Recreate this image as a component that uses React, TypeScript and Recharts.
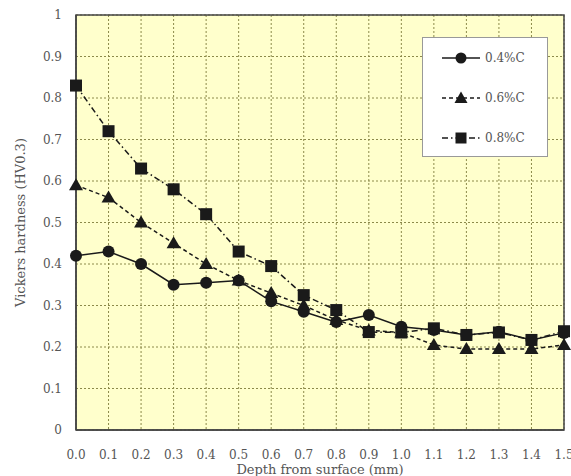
import { LineChart, Line, XAxis, YAxis, CartesianGrid, ReferenceArea } from 'recharts';

const depth = [0, 0.1, 0.2, 0.3, 0.4, 0.5, 0.6, 0.7, 0.8, 0.9, 1.0, 1.1, 1.2, 1.3, 1.4, 1.5];
const c04 = [0.42, 0.43, 0.40, 0.35, 0.355, 0.36, 0.31, 0.285, 0.26, 0.277, 0.249, 0.241, 0.229, 0.237, 0.217, 0.234];
const c06 = [0.59, 0.56, 0.50, 0.45, 0.40, 0.36, 0.33, 0.30, 0.265, 0.24, 0.235, 0.205, 0.195, 0.195, 0.195, 0.205];
const c08 = [0.83, 0.72, 0.63, 0.58, 0.52, 0.43, 0.395, 0.325, 0.289, 0.236, 0.235, 0.245, 0.229, 0.235, 0.217, 0.238];

const xTicks = depth;
const yTicks = [0, 0.1, 0.2, 0.3, 0.4, 0.5, 0.6, 0.7, 0.8, 0.9, 1];

const data = depth.map((d, i) => ({ depth: d, c04: c04[i], c06: c06[i], c08: c08[i] }));

const FONT = '"DejaVu Serif", "Liberation Serif", serif';
const INK = '#1a1a1a';
const TEXT = '#555';

const circleDot = (p: any) => <circle key={p.index} cx={p.cx} cy={p.cy} r={6} fill={INK} />;
const triDot = (p: any) => (
  <polygon key={p.index} points={`${p.cx},${p.cy - 7} ${p.cx - 7},${p.cy + 5} ${p.cx + 7},${p.cy + 5}`} fill={INK} />
);
const squareDot = (p: any) => <rect key={p.index} x={p.cx - 6} y={p.cy - 6} width={12} height={12} fill={INK} />;

const legendItems = [
  { name: '0.4%C', dash: undefined, shape: 'circle' },
  { name: '0.6%C', dash: '4 3', shape: 'tri' },
  { name: '0.8%C', dash: '6 3 1.5 3', shape: 'square' },
];

// legend drawn as an overlay so it doesn't eat plot height
function LegendBox() {
  return (
    <div style={{ position: 'absolute', left: 422, top: 37, background: '#fff', border: '1px solid #999', width: 126, height: 120, boxSizing: 'border-box' }}>
      {legendItems.map((it) => (
        <div key={it.name} style={{ display: 'flex', alignItems: 'center', height: 40, paddingLeft: 17 }}>
          <svg width={42} height={16}>
            <line x1={2} y1={8} x2={40} y2={8} stroke={INK} strokeWidth={1.5} strokeDasharray={it.dash} />
            {it.shape === 'circle' && <circle cx={21} cy={8} r={5.5} fill={INK} />}
            {it.shape === 'tri' && <polygon points="21,1.5 14.5,13 27.5,13" fill={INK} />}
            {it.shape === 'square' && <rect x={15.5} y={2.5} width={11} height={11} fill={INK} />}
          </svg>
          <span style={{ fontFamily: FONT, fontSize: 12, color: TEXT, marginLeft: 3 }}>{it.name}</span>
        </div>
      ))}
    </div>
  );
}

export default function App() {
  return (
    <div style={{ position: 'fixed', left: 0, top: 0, width: 571, height: 476, background: '#fff' }}>
      <LineChart width={571} height={476} data={data} margin={{ top: 15, right: 7, left: 0, bottom: 0 }}>
        <CartesianGrid stroke="#8c8a4a" strokeDasharray="2 2" fill="#ffffcc" />
        <XAxis
          dataKey="depth"
          type="number"
          domain={[0, 1.5]}
          ticks={xTicks}
          tickFormatter={(v: number) => v.toFixed(1)}
          tickLine={false}
          tickMargin={14}
          axisLine={{ stroke: '#444', strokeWidth: 1.5 }}
          tick={{ fontFamily: FONT, fontSize: 12, fill: TEXT }}
          interval={0}
          height={46}
          label={{ value: 'Depth from surface (mm)', position: 'insideBottom', offset: 2, style: { fontFamily: FONT, fontSize: 13, fill: TEXT } }}
        />
        <YAxis
          type="number"
          domain={[0, 1]}
          ticks={yTicks}
          tickFormatter={(v: number) => String(v)}
          tickLine={false}
          tickMargin={8}
          axisLine={{ stroke: '#444', strokeWidth: 1.5 }}
          tick={{ fontFamily: FONT, fontSize: 12, fill: TEXT }}
          interval={0}
          width={76}
          label={{ value: 'Vickers hardness (HV0.3)', angle: -90, position: 'insideLeft', offset: 20, style: { fontFamily: FONT, fontSize: 13, fill: TEXT, textAnchor: 'middle' } }}
        />
        <ReferenceArea x1={0} x2={1.5} y1={0} y2={1} fill="none" stroke="#444" strokeWidth={1.5} ifOverflow="visible" />
        <Line dataKey="c04" name="0.4%C" stroke={INK} strokeWidth={1.5} dot={circleDot} isAnimationActive={false} />
        <Line dataKey="c06" name="0.6%C" stroke={INK} strokeWidth={1.5} strokeDasharray="4 3" dot={triDot} isAnimationActive={false} />
        <Line dataKey="c08" name="0.8%C" stroke={INK} strokeWidth={1.5} strokeDasharray="6 3 1.5 3" dot={squareDot} isAnimationActive={false} />
      </LineChart>
      <LegendBox />
    </div>
  );
}
